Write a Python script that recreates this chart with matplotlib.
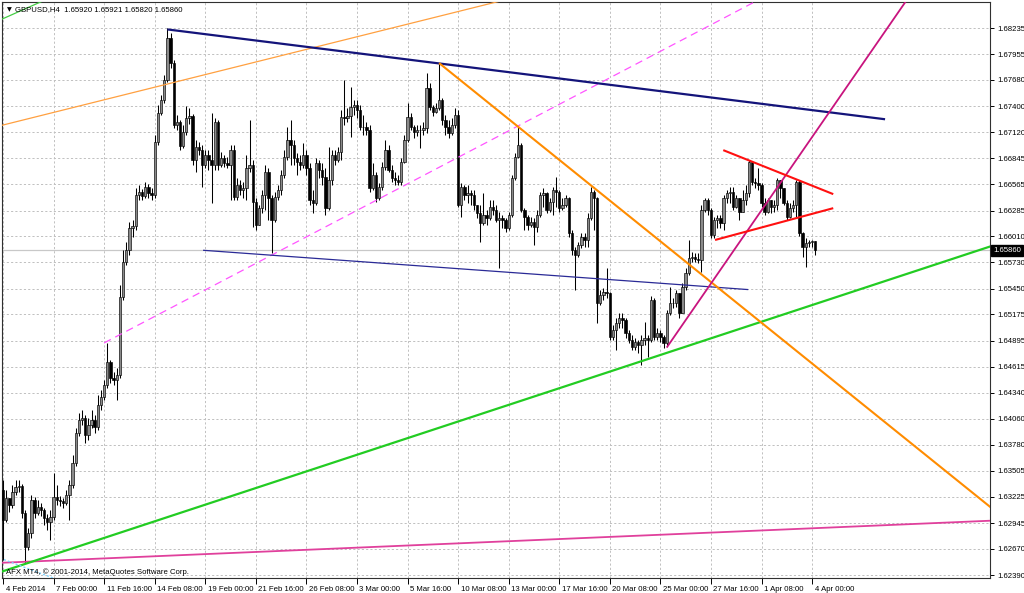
import matplotlib
matplotlib.use('Agg')
import matplotlib.pyplot as plt
import matplotlib.transforms as mtrans
import numpy as np

# ---------------- data ----------------
symbol_text = "GBPUSD,H4  1.65920 1.65921 1.65820 1.65860"
copyright_text = "AFX MT4, \u00a9 2001-2014, MetaQuotes Software Corp."

first_open = 1.6330
closes = [
 1.6298,1.6321,1.6314,1.6328,1.6333,1.6334,1.6305,1.6269,1.6284,1.6319,
 1.6305,1.6312,1.6308,1.6300,1.6296,1.6301,1.6322,1.6319,1.6318,1.6316,
 1.6324,1.6335,1.6359,1.6391,1.6405,1.6407,1.6389,1.6399,1.6405,1.6397,
 1.6421,1.6429,1.6442,1.6467,1.6450,1.6447,1.6453,1.6536,1.6573,1.6586,
 1.6610,1.6612,1.6645,1.6648,1.6644,1.6654,1.6647,1.6645,1.6702,1.6733,
 1.6747,1.6768,1.6813,1.6786,1.6720,1.6723,1.6697,1.6712,1.6727,1.6729,
 1.6682,1.6696,1.6693,1.6677,1.6688,1.6682,1.6677,1.6723,1.6677,1.6685,
 1.6679,1.6677,1.6693,1.6643,1.6656,1.6650,1.6653,1.6674,1.6677,1.6638,
 1.6613,1.6631,1.6645,1.6670,1.6642,1.6618,1.6643,1.6650,1.6666,1.6686,
 1.6704,1.6698,1.6685,1.6680,1.6677,1.6688,1.6674,1.6640,1.6636,1.6679,
 1.6672,1.6664,1.6631,1.6661,1.6688,1.6682,1.6691,1.6728,1.6727,1.6729,
 1.6739,1.6741,1.6736,1.6718,1.6718,1.6714,1.6653,1.6666,1.6642,1.6654,
 1.6675,1.6693,1.6672,1.6663,1.6661,1.6659,1.6680,1.6704,1.6728,1.6718,
 1.6712,1.6714,1.6714,1.6717,1.6759,1.6739,1.6734,1.6738,1.6747,1.6725,
 1.6718,1.6711,1.6720,1.6731,1.6634,1.6654,1.6645,1.6647,1.6645,1.6634,
 1.6626,1.6615,1.6624,1.6620,1.6632,1.6629,1.6618,1.6620,1.6618,1.6610,
 1.6624,1.6663,1.6686,1.6698,1.6629,1.6622,1.6613,1.6616,1.6611,1.6624,
 1.6645,1.6647,1.6629,1.6638,1.6650,1.6648,1.6631,1.6634,1.6642,1.6604,
 1.6586,1.6581,1.6592,1.6600,1.6597,1.6620,1.6648,1.6642,1.6530,1.6538,
 1.6541,1.6540,1.6493,1.6501,1.6508,1.6514,1.6511,1.6498,1.6490,1.6483,
 1.6488,1.6485,1.6490,1.6492,1.6490,1.6533,1.6493,1.6498,1.6493,1.6487,
 1.6519,1.6530,1.6530,1.6540,1.6519,1.6547,1.6562,1.6578,1.6579,1.6577,
 1.6576,1.6629,1.6640,1.6629,1.6602,1.6618,1.6620,1.6615,1.6642,1.6647,
 1.6648,1.6632,1.6642,1.6627,1.6640,1.6647,1.6680,1.6659,1.6658,1.6656,
 1.6636,1.6627,1.6640,1.6632,1.6634,1.6661,1.6653,1.6636,1.6622,1.6631,
 1.6634,1.6659,1.6604,1.6589,1.6594,1.6595,1.6596,1.6586]
highs = [
 1.6340,1.6330,1.6321,1.6335,1.6341,1.6341,1.6336,1.6308,1.6289,1.6324,
 1.6322,1.6319,1.6316,1.6311,1.6304,1.6308,1.6348,1.6335,1.6323,1.6321,
 1.6330,1.6341,1.6367,1.6396,1.6412,1.6415,1.6410,1.6407,1.6415,1.6410,
 1.6431,1.6437,1.6447,1.6487,1.6469,1.6456,1.6460,1.6549,1.6586,1.6595,
 1.6616,1.6618,1.6653,1.6656,1.6651,1.6659,1.6657,1.6653,1.6709,1.6741,
 1.6752,1.6773,1.6823,1.6818,1.6789,1.6731,1.6725,1.6720,1.6740,1.6738,
 1.6732,1.6704,1.6702,1.6698,1.6693,1.6693,1.6733,1.6727,1.6725,1.6691,
 1.6688,1.6686,1.6698,1.6698,1.6663,1.6661,1.6659,1.6688,1.6725,1.6682,
 1.6642,1.6634,1.6650,1.6677,1.6674,1.6645,1.6648,1.6656,1.6672,1.6693,
 1.6718,1.6725,1.6704,1.6690,1.6688,1.6701,1.6693,1.6679,1.6650,1.6685,
 1.6682,1.6679,1.6674,1.6696,1.6693,1.6693,1.6696,1.6736,1.6768,1.6738,
 1.6760,1.6747,1.6747,1.6741,1.6731,1.6723,1.6720,1.6679,1.6670,1.6658,
 1.6680,1.6704,1.6698,1.6677,1.6670,1.6666,1.6685,1.6709,1.6743,1.6733,
 1.6720,1.6720,1.6720,1.6723,1.6775,1.6765,1.6741,1.6743,1.6786,1.6749,
 1.6731,1.6725,1.6727,1.6738,1.6736,1.6658,1.6656,1.6656,1.6650,1.6650,
 1.6634,1.6634,1.6647,1.6629,1.6640,1.6640,1.6634,1.6627,1.6624,1.6620,
 1.6627,1.6666,1.6690,1.6718,1.6701,1.6631,1.6624,1.6622,1.6620,1.6629,
 1.6648,1.6653,1.6648,1.6642,1.6654,1.6664,1.6650,1.6642,1.6645,1.6643,
 1.6608,1.6589,1.6595,1.6604,1.6604,1.6626,1.6654,1.6650,1.6643,1.6544,
 1.6546,1.6567,1.6541,1.6506,1.6514,1.6519,1.6519,1.6514,1.6501,1.6495,
 1.6492,1.6490,1.6495,1.6509,1.6495,1.6537,1.6535,1.6503,1.6501,1.6495,
 1.6522,1.6547,1.6535,1.6544,1.6538,1.6551,1.6567,1.6597,1.6584,1.6583,
 1.6583,1.6634,1.6642,1.6642,1.6631,1.6622,1.6624,1.6624,1.6645,1.6650,
 1.6654,1.6654,1.6645,1.6642,1.6650,1.6656,1.6682,1.6681,1.6663,1.6674,
 1.6658,1.6642,1.6642,1.6640,1.6640,1.6663,1.6655,1.6653,1.6640,1.6636,
 1.6640,1.6661,1.6661,1.6606,1.6599,1.6597,1.6597,1.6592]
lows = [
 1.6255,1.6296,1.6306,1.6311,1.6324,1.6328,1.6300,1.6252,1.6266,1.6279,
 1.6300,1.6303,1.6302,1.6292,1.6287,1.6276,1.6298,1.6314,1.6313,1.6311,
 1.6314,1.6298,1.6332,1.6355,1.6388,1.6399,1.6380,1.6383,1.6396,1.6391,
 1.6394,1.6415,1.6426,1.6439,1.6444,1.6442,1.6426,1.6450,1.6533,1.6570,
 1.6581,1.6600,1.6608,1.6640,1.6640,1.6642,1.6642,1.6640,1.6642,1.6698,
 1.6731,1.6743,1.6766,1.6781,1.6717,1.6714,1.6693,1.6695,1.6709,1.6721,
 1.6677,1.6670,1.6688,1.6654,1.6674,1.6672,1.6636,1.6672,1.6672,1.6675,
 1.6675,1.6674,1.6640,1.6640,1.6640,1.6645,1.6642,1.6640,1.6670,1.6611,
 1.6608,1.6620,1.6626,1.6629,1.6618,1.6583,1.6616,1.6640,1.6645,1.6663,
 1.6682,1.6677,1.6677,1.6666,1.6672,1.6674,1.6666,1.6634,1.6626,1.6634,
 1.6663,1.6656,1.6624,1.6629,1.6656,1.6677,1.6680,1.6682,1.6720,1.6723,
 1.6707,1.6731,1.6727,1.6714,1.6709,1.6709,1.6648,1.6650,1.6638,1.6640,
 1.6650,1.6672,1.6670,1.6659,1.6656,1.6656,1.6656,1.6679,1.6702,1.6714,
 1.6706,1.6708,1.6695,1.6709,1.6711,1.6736,1.6729,1.6733,1.6736,1.6720,
 1.6709,1.6706,1.6709,1.6717,1.6632,1.6622,1.6640,1.6636,1.6634,1.6629,
 1.6620,1.6595,1.6613,1.6613,1.6618,1.6624,1.6616,1.6567,1.6610,1.6606,
 1.6608,1.6622,1.6661,1.6685,1.6627,1.6608,1.6608,1.6611,1.6592,1.6606,
 1.6622,1.6632,1.6626,1.6627,1.6624,1.6632,1.6627,1.6629,1.6632,1.6600,
 1.6581,1.6544,1.6579,1.6588,1.6589,1.6589,1.6618,1.6608,1.6508,1.6528,
 1.6533,1.6535,1.6490,1.6490,1.6479,1.6503,1.6503,1.6492,1.6487,1.6479,
 1.6479,1.6476,1.6463,1.6485,1.6472,1.6488,1.6490,1.6490,1.6488,1.6482,
 1.6485,1.6517,1.6524,1.6525,1.6514,1.6519,1.6544,1.6560,1.6573,1.6573,
 1.6572,1.6563,1.6627,1.6624,1.6599,1.6599,1.6610,1.6610,1.6608,1.6636,
 1.6636,1.6629,1.6631,1.6618,1.6627,1.6634,1.6643,1.6656,1.6653,1.6650,
 1.6632,1.6624,1.6626,1.6626,1.6627,1.6629,1.6642,1.6634,1.6618,1.6620,
 1.6627,1.6622,1.6601,1.6579,1.6568,1.6589,1.6589,1.6581]

last_price = 1.65860

time_labels = ["4 Feb 2014", "7 Feb 00:00", "11 Feb 16:00", "14 Feb 08:00",
               "19 Feb 00:00", "21 Feb 16:00", "26 Feb 08:00", "3 Mar 00:00",
               "5 Mar 16:00", "10 Mar 08:00", "13 Mar 00:00", "17 Mar 16:00",
               "20 Mar 08:00", "25 Mar 00:00", "27 Mar 16:00", "1 Apr 08:00",
               "4 Apr 00:00"]
bars_per_label = 16

price_labels = ["1.68235", "1.67955", "1.67680", "1.67400", "1.67120", "1.66845",
                "1.66565", "1.66285", "1.66010", "1.65730", "1.65450", "1.65175",
                "1.64895", "1.64615", "1.64340", "1.64060", "1.63780", "1.63505",
                "1.63225", "1.62945", "1.62670", "1.62390"]

# trend-line objects: (bar, price) anchors
trend_navy = [(52.0, 1.6822), (279.1, 1.6726)]
trend_blue = [(63.3, 1.6586), (235.8, 1.6544)]
trend_orange_up = [(-1.0, 1.6719), (103.5, 1.6807)]
trend_green_top = [(-1.0, 1.6832), (5.0, 1.6841)]
trend_green = [(-0.95, 1.6242), (260.1, 1.6532)]
trend_pink = [(-0.95, 1.6252), (312.3, 1.6297)]
trend_cyan = [(-0.95, 1.6257), (14.9, 1.6237)]
trend_violet = [(32.0, 1.6487), (155.7, 1.6706)]
trend_orange = [(138.0, 1.6786), (163.0, 1.6718)]
trend_magenta = [(210.0, 1.6482), (255.4, 1.6704)]
trend_red_up = [(227.9, 1.6693), (262.7, 1.6646)]
trend_red_low = [(225.3, 1.6597), (262.7, 1.6631)]

# ---------------- figure ----------------
W, H = 1024, 593
fig = plt.figure(figsize=(W / 100, H / 100), dpi=100)
fig.patch.set_facecolor('white')
px_left, px_right, px_top, px_bot = 2, 990, 2, 578
ax = fig.add_axes([px_left / W, (H - px_bot) / H, (px_right - px_left) / W,
                   (px_bot - px_top) / H])
ax.set_facecolor('white')

FONT = ['Liberation Sans', 'DejaVu Sans']
FS = 5.6

n = len(closes)
idx = np.arange(n)
c = np.array(closes)
o = np.concatenate([[first_open], c[:-1]])
h = np.maximum(np.array(highs), np.maximum(o, c))
l = np.minimum(np.array(lows), np.minimum(o, c))

x_lo, x_hi = -0.32, 312.3
y_lo, y_hi = 1.62358, 1.68513
ax.set_xlim(x_lo, x_hi)
ax.set_ylim(y_lo, y_hi)

# grid
tick_bars = [i * bars_per_label for i in range(len(time_labels))]
price_vals = [float(s) for s in price_labels]
for tb in tick_bars:
    ax.axvline(tb, color='#c0c0c0', lw=0.7, ls=(0, (2.2, 2.2)), zorder=0)
for pv in price_vals:
    ax.axhline(pv, color='#c0c0c0', lw=0.7, ls=(0, (2.2, 2.2)), zorder=0)

# bid line
ax.axhline(last_price, color='#c8c8c8', lw=0.9, zorder=1)

# candles
ax.vlines(idx, l, h, color='black', lw=0.75, zorder=3)
bull = c >= o
bw = 0.74
ax.bar(idx[bull], (c - o)[bull], bottom=o[bull], width=bw, color='#8a8a8a',
       edgecolor='black', linewidth=0.45, zorder=4)
ax.bar(idx[~bull], (o - c)[~bull], bottom=c[~bull], width=bw, color='black',
       edgecolor='black', linewidth=0.45, zorder=4)


def draw_line(pts, color, lw, ls='-', ray=False, z=5):
    (x1, y1), (x2, y2) = pts
    if ray:
        slope = (y2 - y1) / (x2 - x1)
        x2e = 400.0
        y2 = y1 + slope * (x2e - x1)
        x2 = x2e
    ax.plot([x1, x2], [y1, y2], color=color, lw=lw, ls=ls, zorder=z,
            solid_capstyle='butt')


draw_line(trend_cyan, '#7fd4ff', 1.0, ls=(0, (1.5, 1.5)), ray=True, z=6)
draw_line(trend_pink, '#e0409c', 1.3, ray=True)
draw_line(trend_green, '#22cc22', 1.6, ray=True)
draw_line(trend_green_top, '#44cc44', 0.9, ray=True)
draw_line(trend_orange_up, '#ffa040', 0.9, ray=True)
draw_line(trend_violet, '#ff55ff', 0.9, ls=(0, (6, 4)), ray=True)
draw_line(trend_blue, '#2a2a96', 0.9)
draw_line(trend_navy, '#14147a', 1.6)
draw_line(trend_orange, '#ff8c00', 1.5, ray=True)
draw_line(trend_magenta, '#c8147e', 1.3, ray=True)
draw_line(trend_red_up, '#ff1010', 1.5)
draw_line(trend_red_low, '#ff1010', 1.5)

# axes / ticks
for sp in ax.spines.values():
    sp.set_color('#303030')
    sp.set_linewidth(0.8)
ax.yaxis.tick_right()
ax.set_yticks(price_vals)
ax.set_yticklabels(price_labels, fontsize=FS, family=FONT)
ax.tick_params(axis='y', direction='out', length=3, width=0.7, pad=2,
               colors='black')
ax.set_xticks(tick_bars)
ax.set_xticklabels(time_labels, fontsize=FS, family=FONT)
ax.tick_params(axis='x', direction='out', length=4, width=0.7, pad=1.5,
               colors='black')
offset = mtrans.ScaledTranslation(2.5 / 100, 0, fig.dpi_scale_trans)
for lbl in ax.get_xticklabels():
    lbl.set_horizontalalignment('left')
    lbl.set_transform(lbl.get_transform() + offset)

# current price box
bt = mtrans.blended_transform_factory(ax.transAxes, ax.transData)
ax.text(1.003, last_price, "1.65860", transform=bt, fontsize=FS, family=FONT,
        color='white', va='center', ha='left', zorder=10, clip_on=False,
        bbox=dict(boxstyle='square,pad=0.25', fc='black', ec='black'))

# header / footer texts
fig.text(7 / W, 1 - 10 / H, "\u25bc", fontsize=4.5, family=['DejaVu Sans'],
         va='center', ha='left')
fig.text(15 / W, 1 - 10 / H, symbol_text, fontsize=FS, family=FONT,
         va='center', ha='left')
fig.text(6 / W, 1 - 572 / H, copyright_text, fontsize=FS, family=FONT,
         va='center', ha='left')

fig.savefig('out.png', dpi=100, facecolor='white')
